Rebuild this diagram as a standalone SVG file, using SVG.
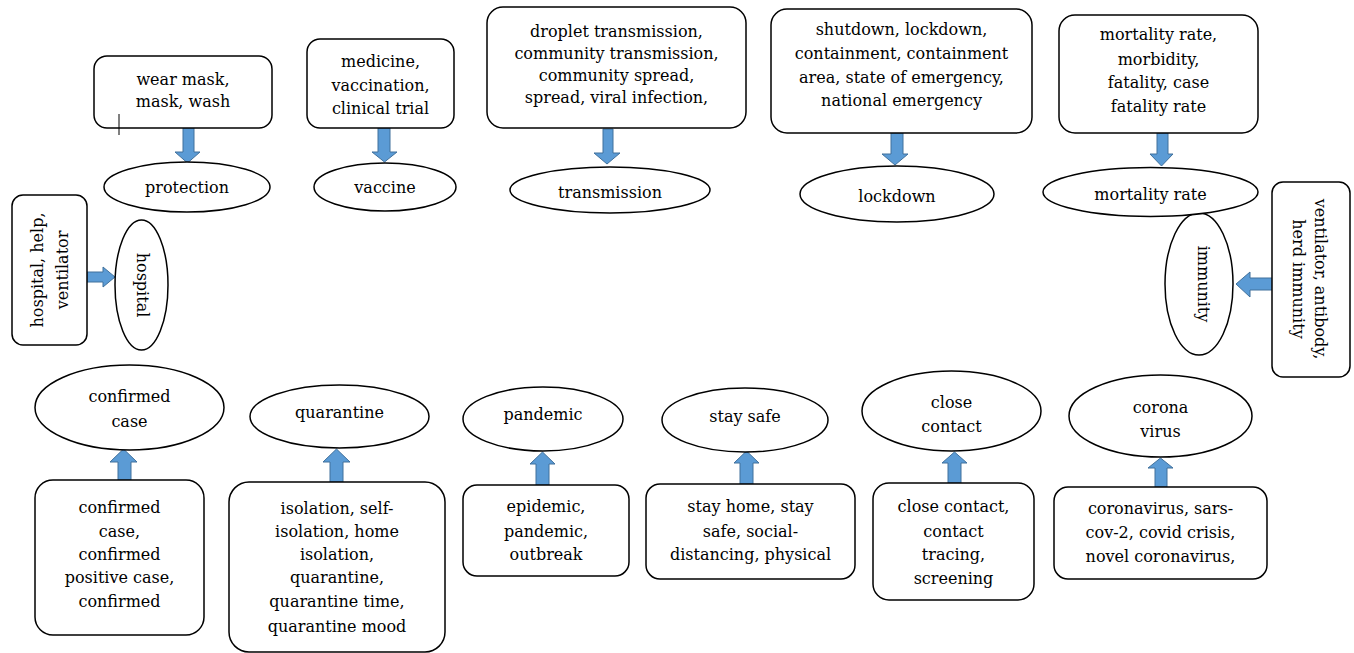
<svg xmlns="http://www.w3.org/2000/svg" width="1354" height="653" viewBox="0 0 1354 653">
<style>
.b{fill:#fff;stroke:#000;stroke-width:1.5}
.e{fill:#fff;stroke:#000;stroke-width:1.5}
.t{font-family:"DejaVu Serif","Liberation Serif",serif;font-size:16px;fill:#000;text-anchor:middle}
.a{fill:#5B9BD5;stroke:#41719C;stroke-width:1}
</style>
<rect width="1354" height="653" fill="#fff"/>
<g id="connectors">
<polygon class="a" points="183,128 194,128 194,152 200,152 187.5,163 175,152 183,152"/>
<polygon class="a" points="378,128 390,128 390,152 397,152 384.5,162 372,152 378,152"/>
<polygon class="a" points="603,129 613,129 613,153 620,153 607,164 594,153 603,153"/>
<polygon class="a" points="891,133 903,133 903,154 908,154 895,165 882,154 891,154"/>
<polygon class="a" points="1157,133 1168,133 1168,154 1173,154 1161.5,166 1150,154 1157,154"/>
<polygon class="a" points="87,272 103,272 103,267 115,277 103,287 103,282 87,282"/>
<polygon class="a" points="1273,278 1250,278 1250,272 1236,284 1250,297 1250,290 1273,290"/>
<polygon class="a" points="118,480 118,462 110,462 123.5,449 137,462 131,462 131,480"/>
<polygon class="a" points="330,482 330,462 323,462 336.5,449 350,462 343,462 343,482"/>
<polygon class="a" points="536,485 536,464 530,464 542.5,452 555,464 549,464 549,485"/>
<polygon class="a" points="740,484 740,463 734,463 746.5,451 759,463 753,463 753,484"/>
<polygon class="a" points="948,483 948,463 942,463 954.5,452 967,463 961,463 961,483"/>
<polygon class="a" points="1155,487 1155,468 1148,468 1160.5,458 1173,468 1167,468 1167,487"/>
</g>
<g id="n-wearmask">
<rect class="b" x="94" y="56" width="178" height="72" rx="13"/>
<text class="t"><tspan x="183" y="85">wear mask,</tspan><tspan x="183" y="107">mask, wash</tspan></text>
<line x1="119" y1="114" x2="119" y2="135" stroke="#000" stroke-width="1"/>
</g>
<g id="n-protection">
<ellipse class="e" cx="187" cy="187" rx="83" ry="25"/>
<text class="t" x="187" y="193">protection</text>
</g>
<g id="n-medicine">
<rect class="b" x="307" y="39" width="147" height="89" rx="13"/>
<text class="t"><tspan x="380.5" y="67">medicine,</tspan><tspan x="380.5" y="91">vaccination,</tspan><tspan x="380.5" y="114">clinical trial</tspan></text>
</g>
<g id="n-vaccine">
<ellipse class="e" cx="385" cy="187" rx="71" ry="24"/>
<text class="t" x="385" y="193">vaccine</text>
</g>
<g id="n-droplet">
<rect class="b" x="487" y="7" width="259" height="121" rx="16"/>
<text class="t"><tspan x="616.5" y="37">droplet transmission,</tspan><tspan x="616.5" y="59">community transmission,</tspan><tspan x="616.5" y="81">community spread,</tspan><tspan x="616.5" y="103">spread, viral infection,</tspan></text>
</g>
<g id="n-transmission">
<ellipse class="e" cx="610" cy="190" rx="100" ry="23"/>
<text class="t" x="610" y="198">transmission</text>
</g>
<g id="n-shutdown">
<rect class="b" x="771" y="9" width="261" height="124" rx="16"/>
<text class="t"><tspan x="901.5" y="35">shutdown, lockdown,</tspan><tspan x="901.5" y="59">containment, containment</tspan><tspan x="901.5" y="83">area, state of emergency,</tspan><tspan x="901.5" y="106">national emergency</tspan></text>
</g>
<g id="n-lockdown">
<ellipse class="e" cx="897" cy="194" rx="97" ry="28"/>
<text class="t" x="897" y="202">lockdown</text>
</g>
<g id="n-mortalitybox">
<rect class="b" x="1059" y="15" width="199" height="118" rx="16"/>
<text class="t"><tspan x="1158.5" y="40">mortality rate,</tspan><tspan x="1158.5" y="65">morbidity,</tspan><tspan x="1158.5" y="88">fatality, case</tspan><tspan x="1158.5" y="112">fatality rate</tspan></text>
</g>
<g id="n-immunity">
<ellipse class="e" cx="1199" cy="284" rx="34" ry="71"/>
<text class="t" transform="translate(1203,284) rotate(90)" x="0" y="5">immunity</text>
</g>
<g id="n-mortality">
<ellipse class="e" cx="1150.5" cy="192" rx="107.5" ry="24.5"/>
<text class="t" x="1150.5" y="200">mortality rate</text>
</g>
<g id="n-hospitalbox">
<rect class="b" x="12" y="195" width="75" height="150" rx="11"/>
<text class="t" transform="translate(49.5,270) rotate(-90)"><tspan x="0" y="-7">hospital, help,</tspan><tspan x="0" y="18">ventilator</tspan></text>
</g>
<g id="n-hospital">
<ellipse class="e" cx="141.5" cy="285" rx="26.5" ry="65"/>
<text class="t" transform="translate(141.5,285) rotate(90)" x="0" y="5">hospital</text>
</g>
<g id="n-immunitybox">
<rect class="b" x="1272" y="182" width="78" height="195" rx="11"/>
<text class="t" transform="translate(1311,279) rotate(90)"><tspan x="0" y="-4">ventilator, antibody,</tspan><tspan x="0" y="18">herd immunity</tspan></text>
</g>
<g id="n-confirmedcase">
<ellipse class="e" cx="129.5" cy="407.5" rx="94.5" ry="42.5"/>
<text class="t"><tspan x="129.5" y="402">confirmed</tspan><tspan x="129.5" y="427">case</tspan></text>
</g>
<g id="n-confirmedbox">
<rect class="b" x="35" y="480" width="169" height="155" rx="18"/>
<text class="t"><tspan x="119.5" y="513">confirmed</tspan><tspan x="119.5" y="537">case,</tspan><tspan x="119.5" y="560">confirmed</tspan><tspan x="119.5" y="583">positive case,</tspan><tspan x="119.5" y="607">confirmed</tspan></text>
</g>
<g id="n-quarantine">
<ellipse class="e" cx="339.5" cy="416.5" rx="89.5" ry="31.5"/>
<text class="t" x="339.5" y="418">quarantine</text>
</g>
<g id="n-quarantinebox">
<rect class="b" x="229" y="482" width="216" height="170" rx="20"/>
<text class="t"><tspan x="337" y="514">isolation, self-</tspan><tspan x="337" y="537">isolation, home</tspan><tspan x="337" y="560">isolation,</tspan><tspan x="337" y="583">quarantine,</tspan><tspan x="337" y="607">quarantine time,</tspan><tspan x="337" y="632">quarantine mood</tspan></text>
</g>
<g id="n-pandemic">
<ellipse class="e" cx="543" cy="419" rx="80" ry="32"/>
<text class="t" x="543" y="420">pandemic</text>
</g>
<g id="n-epidemicbox">
<rect class="b" x="463" y="485" width="166" height="91" rx="14"/>
<text class="t"><tspan x="546" y="512">epidemic,</tspan><tspan x="546" y="537">pandemic,</tspan><tspan x="546" y="560">outbreak</tspan></text>
</g>
<g id="n-staysafe">
<ellipse class="e" cx="745" cy="420" rx="83" ry="32"/>
<text class="t" x="745" y="422">stay safe</text>
</g>
<g id="n-stayhomebox">
<rect class="b" x="646" y="484" width="209" height="95" rx="14"/>
<text class="t"><tspan x="750.5" y="512">stay home, stay</tspan><tspan x="750.5" y="537">safe, social-</tspan><tspan x="750.5" y="560">distancing, physical</tspan></text>
</g>
<g id="n-closecontact">
<ellipse class="e" cx="951.5" cy="411" rx="89.5" ry="40"/>
<text class="t"><tspan x="951.5" y="408">close</tspan><tspan x="951.5" y="432">contact</tspan></text>
</g>
<g id="n-closecontactbox">
<rect class="b" x="873" y="483" width="161" height="117" rx="16"/>
<text class="t"><tspan x="953.5" y="512">close contact,</tspan><tspan x="953.5" y="537">contact</tspan><tspan x="953.5" y="560">tracing,</tspan><tspan x="953.5" y="584">screening</tspan></text>
</g>
<g id="n-coronavirus">
<ellipse class="e" cx="1160.5" cy="416" rx="91.5" ry="41"/>
<text class="t"><tspan x="1160.5" y="413">corona</tspan><tspan x="1160.5" y="437">virus</tspan></text>
</g>
<g id="n-coronabox">
<rect class="b" x="1054" y="487" width="213" height="92" rx="14"/>
<text class="t"><tspan x="1160.5" y="514">coronavirus, sars-</tspan><tspan x="1160.5" y="538">cov-2, covid crisis,</tspan><tspan x="1160.5" y="562">novel coronavirus,</tspan></text>
</g>
</svg>
